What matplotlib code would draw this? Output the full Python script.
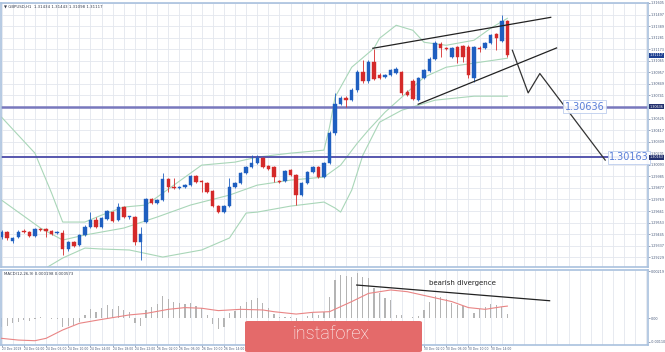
import matplotlib
matplotlib.use('Agg')
import matplotlib.pyplot as plt
from matplotlib.patches import FancyBboxPatch
import matplotlib.transforms as mtransforms

# ---------------- data ----------------
opens = [1.29418,1.29465,1.29381,1.29418,1.29474,1.29465,1.29427,1.29493,1.29493,1.29474,
 1.29455,1.29455,1.29306,1.29371,1.29343,1.29437,1.29511,1.29577,1.29511,1.29586,
 1.29651,1.29577,1.29698,1.29605,1.29605,1.29371,1.29558,1.29773,1.29735,1.29763,
 1.29959,1.29885,1.29875,1.29885,1.29903,1.29987,1.29941,1.29922,1.29847,1.29707,
 1.29651,1.29707,1.29885,1.29922,1.30015,1.30071,1.30109,1.30155,1.30081,1.30071,
 1.29941,1.29941,1.30043,1.29997,1.29810,1.29922,1.30025,1.30071,1.29978,1.30109,
 1.30389,1.30659,1.30715,1.30697,1.30790,1.30958,1.30874,1.31051,1.30930,1.30911,
 1.30930,1.30949,1.30958,1.30771,1.30874,1.30697,1.30902,1.30967,1.31079,1.31219,
 1.31182,1.31098,1.31191,1.31201,1.31191,1.30902,1.31182,1.31182,1.31229,1.31313,
 1.31247,1.31434]
highs = [1.29483,1.29474,1.29418,1.29483,1.29493,1.29474,1.29502,1.29502,1.29502,1.29483,
 1.29474,1.29483,1.29381,1.29381,1.29446,1.29530,1.29651,1.29605,1.29605,1.29670,
 1.29661,1.29735,1.29707,1.29614,1.29614,1.29511,1.29782,1.29782,1.29773,1.30015,
 1.29969,1.29969,1.29894,1.29913,1.29997,1.29997,1.29950,1.29931,1.29857,1.29717,
 1.29717,1.29969,1.29931,1.30025,1.30081,1.30183,1.30183,1.30165,1.30090,1.30081,
 1.29950,1.30043,1.30053,1.30006,1.29931,1.30034,1.30081,1.30081,1.30118,1.30407,
 1.30762,1.30734,1.30734,1.30809,1.30977,1.31070,1.31070,1.31173,1.30949,1.30939,
 1.30986,1.31005,1.30967,1.30790,1.30893,1.30911,1.30986,1.31098,1.31247,1.31238,
 1.31191,1.31191,1.31201,1.31210,1.31210,1.31201,1.31201,1.31238,1.31313,1.31322,
 1.31490,1.31443]
lows = [1.29399,1.29390,1.29362,1.29409,1.29455,1.29418,1.29418,1.29474,1.29418,1.29437,
 1.29446,1.29250,1.29287,1.29325,1.29334,1.29427,1.29502,1.29502,1.29502,1.29577,
 1.29558,1.29567,1.29595,1.29586,1.29343,1.29203,1.29549,1.29726,1.29726,1.29754,
 1.29838,1.29866,1.29866,1.29875,1.29894,1.29922,1.29838,1.29829,1.29698,1.29642,
 1.29642,1.29698,1.29875,1.29913,1.30006,1.30062,1.30099,1.30062,1.30043,1.29931,
 1.29922,1.29931,1.29987,1.29717,1.29801,1.29913,1.30015,1.29969,1.29969,1.30099,
 1.30370,1.30650,1.30631,1.30687,1.30771,1.30855,1.30855,1.30883,1.30893,1.30902,
 1.30921,1.30939,1.30743,1.30734,1.30697,1.30687,1.30893,1.30958,1.31070,1.31098,
 1.31163,1.31089,1.31042,1.31051,1.30902,1.30865,1.31145,1.31173,1.31219,1.31163,
 1.31238,1.31098]
closes = [1.29465,1.29409,1.29409,1.29465,1.29465,1.29427,1.29493,1.29483,1.29474,1.29446,
 1.29465,1.29306,1.29371,1.29334,1.29437,1.29511,1.29577,1.29511,1.29595,1.29661,
 1.29567,1.29698,1.29605,1.29614,1.29371,1.29446,1.29773,1.29735,1.29763,1.29959,
 1.29885,1.29875,1.29885,1.29903,1.29987,1.29931,1.29931,1.29838,1.29707,1.29651,
 1.29707,1.29885,1.29922,1.30015,1.30071,1.30109,1.30155,1.30071,1.30053,1.29978,
 1.29931,1.30034,1.29997,1.29810,1.29922,1.30025,1.30071,1.29978,1.30109,1.30389,
 1.30659,1.30715,1.30697,1.30790,1.30958,1.30874,1.31051,1.30893,1.30902,1.30930,
 1.30977,1.30986,1.30762,1.30743,1.30706,1.30902,1.30977,1.31079,1.31229,1.31182,
 1.31173,1.31182,1.31098,1.31098,1.30930,1.31191,1.31173,1.31229,1.31303,1.31275,
 1.31434,1.31117]

# Bollinger bands read at selected bars
bb_up_idx = [0,6,9,11,15,18,22,26,31,36,42,46,52,58,59,60,63,67,68,71,74,76,80,85,88,91]
bb_up_val = [1.30538,1.30202,1.29829,1.29558,1.29558,1.29623,1.29698,1.29717,1.29903,1.30090,
             1.30118,1.30165,1.30202,1.30230,1.30445,1.30725,1.31005,1.31182,1.31275,1.31397,
             1.31350,1.31238,1.31210,1.31257,1.31369,1.31462]
bb_mid_idx = [0,7,11,15,22,28,34,41,46,52,58,61,64,66,69,72,76,80,86,91]
bb_mid_val = [1.29763,1.29502,1.29390,1.29437,1.29502,1.29605,1.29717,1.29810,1.29903,1.29950,
              1.29978,1.30090,1.30295,1.30417,1.30585,1.30725,1.30911,1.31005,1.31051,1.31089]
bb_lo_idx = [0,5,8,11,15,18,23,29,36,41,44,46,52,58,60,61,63,65,68,72,78,85,91]
bb_lo_val = [1.28830,1.29026,1.29129,1.29222,1.29315,1.29306,1.29297,1.29231,1.29297,1.29409,
             1.29642,1.29651,1.29707,1.29745,1.29689,1.29651,1.29857,1.30183,1.30491,1.30603,
             1.30697,1.30734,1.30734]

# MACD
macd_hist = [-0.00039,-0.00034,-0.00023,-0.00016,-0.00008,-0.00012,-0.00005,0.00005,0.00003,-0.00002,
 -0.00002,-0.00039,-0.00036,-0.00031,-0.00016,0.00016,0.00042,0.00031,0.00047,0.00062,
 0.00042,0.00057,0.00039,0.00031,-0.00023,-0.00036,0.00039,0.00054,0.00067,0.00104,
 0.00088,0.00078,0.00070,0.00067,0.00073,0.00057,0.00047,0.00016,-0.00026,-0.00050,
 -0.00039,0.00023,0.00036,0.00057,0.00078,0.00085,0.00093,0.00070,0.00047,0.00020,
 0.00005,0.00008,0.00005,-0.00020,0.00000,0.00011,0.00023,0.00016,0.00031,0.00101,
 0.00178,0.00202,0.00197,0.00194,0.00209,0.00194,0.00186,0.00140,0.00116,0.00093,
 0.00085,0.00016,0.00016,0.00002,0.00005,0.00011,0.00039,0.00078,0.00104,0.00098,
 0.00088,0.00073,0.00062,0.00057,0.00003,0.00026,0.00042,0.00054,0.00067,0.00062,
 0.00054,0.00020]
sig_idx = [0,3,6,8,11,14,18,23,26,30,33,36,39,43,47,49,53,56,59,63,66,70,73,77,81,84,87,90,91]
sig_val = [-0.00093,-0.00101,-0.00104,-0.00093,-0.00054,-0.00023,-0.00005,0.00016,0.00023,0.00042,
           0.00050,0.00047,0.00036,0.00042,0.00039,0.00031,0.00020,0.00028,0.00031,0.00078,
           0.00116,0.00132,0.00124,0.00101,0.00078,0.00050,0.00042,0.00054,0.00057]

# levels and drawings
levels = [1.30636, 1.30163]
level_labels = ["1.30636", "1.30163"]
level_label_x = [104.9, 112.9]
upper_trend = ([66.8, 98.8], [1.31182, 1.31471])
lower_trend = ([74.95, 99.85], [1.30659, 1.31185])
path_x = [91.9, 94.74, 96.84, 108.6]
path_y = [1.31163, 1.30765, 1.30946, 1.30137]
div_line = ([63.9, 98.6], [0.00155, 0.00082])

price_ticks = [1.31605,1.31497,1.31389,1.31281,1.31173,1.31065,1.30957,1.30849,1.30741,1.30633,
               1.30525,1.30417,1.30309,1.30201,1.30093,1.29985,1.29877,1.29769,1.29661,1.29553,
               1.29445,1.29337,1.29229]
time_idx = [0,4,8,12,16,20,24,28,32,36,40,44,48,52,56,60,64,68,72,76,80,84,88]
time_labels = ["23 Dec 2019","24 Dec 02:00","24 Dec 06:00","24 Dec 10:00","24 Dec 14:00",
               "24 Dec 18:00","24 Dec 22:00","26 Dec 02:00","26 Dec 06:00","26 Dec 10:00",
               "26 Dec 14:00","26 Dec 18:00","26 Dec 22:00","27 Dec 02:00","27 Dec 06:00",
               "27 Dec 10:00","27 Dec 14:00","27 Dec 18:00","27 Dec 22:00","30 Dec 02:00",
               "30 Dec 06:00","30 Dec 10:00","30 Dec 14:00"]

# ---------------- style ----------------
BULL = '#1f5fc0'
BEAR = '#d42a2a'
BAND = '#a9d6b8'
GRID = '#e3e7ee'
FRAME = '#a9c1de'
TXT = '#4a5b7c'

W, H = 665, 352
fig = plt.figure(figsize=(W/100, H/100), dpi=100)
fig.patch.set_facecolor('white')
ax = fig.add_axes([1/W, 1-267/H, 647/W, 264/H])
ax2 = fig.add_axes([1/W, 1-345/H, 647/W, 75/H])

XMIN, XMAX = -0.1, 116.3
n = len(opens)
xs = list(range(n))

for a in (ax, ax2):
    a.set_xlim(XMIN, XMAX)
    a.set_facecolor('white')
    for s in a.spines.values():
        s.set_color(FRAME)
        s.set_linewidth(1.2)
    grid_x = list(range(0, 118, 2))
    a.vlines(grid_x, 0, 1, transform=a.get_xaxis_transform(), color=GRID, lw=0.6, zorder=0)

# main panel
ax.set_ylim(1.29138, 1.31602)
ax.yaxis.tick_right()
ax.set_yticks(price_ticks)
ax.set_yticklabels([f"{v:.5f}" for v in price_ticks], fontsize=2.4, color=TXT)
ax.tick_params(axis='y', length=1.2, width=0.4, pad=0.6, colors=TXT)
ax.set_xticks([])
for v in price_ticks:
    ax.axhline(v, color=GRID, lw=0.6, zorder=0)

# bands
ax.plot(bb_up_idx, bb_up_val, color=BAND, lw=0.8, zorder=1)
ax.plot(bb_mid_idx, bb_mid_val, color=BAND, lw=0.8, zorder=1)
ax.plot(bb_lo_idx, bb_lo_val, color=BAND, lw=0.8, zorder=1)

# candles
for i in xs:
    o, h, l, c = opens[i], highs[i], lows[i], closes[i]
    col = BULL if c >= o else BEAR
    ax.vlines(i, l, h, color=col, lw=0.6, zorder=3)
    bottom = min(o, c)
    height = max(abs(c - o), 0.00003)
    ax.bar(i, height, bottom=bottom, width=0.62, color=col, edgecolor=col, lw=0.3, zorder=4)

# levels
ax.axhline(levels[0], color='#7878bd', lw=1.8, zorder=2)
ax.axhline(levels[1], color='#4a4aa8', lw=1.3, zorder=2)
for lv, lab, lx in zip(levels, level_labels, level_label_x):
    ax.text(lx, lv, lab, fontsize=7, color='#5a7fd8', ha='center', va='center', zorder=6,
            bbox=dict(boxstyle='square,pad=0.15', fc='white', ec='#b5c8ec', lw=0.6, alpha=0.9))

# trend lines and projected path
ax.plot(*upper_trend, color='#222222', lw=0.9, zorder=5)
ax.plot(*lower_trend, color='#222222', lw=0.9, zorder=5)
ax.plot(path_x, path_y, color='#333333', lw=0.9, zorder=5)

# right-axis highlight boxes
tr = mtransforms.blended_transform_factory(ax.transAxes, ax.transData)
for val, fc in [(closes[-1], '#1d3f91'), (levels[0], '#23306e'), (levels[1], '#23306e')]:
    ax.text(1.002, val, f"{val:.5f}", transform=tr, fontsize=2.4, color='white',
            ha='left', va='center', zorder=7, clip_on=False,
            bbox=dict(boxstyle='square,pad=0.2', fc=fc, ec='none'))

ax.text(0.004, 0.993, "\u25bc GBPUSD,H1  1.31434 1.31443 1.31098 1.31117", transform=ax.transAxes,
        fontsize=2.8, color='#333a4a', ha='left', va='top')

# MACD panel
ax2.set_ylim(-0.00124, 0.00225)
ax2.bar(xs, macd_hist, width=0.22, color='#b4b4b4', zorder=2)
ax2.plot(sig_idx, sig_val, color='#e98585', lw=0.8, zorder=3)
ax2.plot(*div_line, color='#222222', lw=0.9, zorder=4)
ax2.text(82.9, 0.00150, "bearish divergence", fontsize=5, color='#222222', ha='center', va='bottom', zorder=4)
ax2.yaxis.tick_right()
macd_ticks = [0.00219, 0.0, -0.00110]
ax2.set_yticks(macd_ticks)
ax2.set_yticklabels(["0.00219", "0.00", "-0.00110"], fontsize=2.4, color=TXT)
ax2.tick_params(axis='y', length=1.2, width=0.4, pad=0.6, colors=TXT)
ax2.set_xticks(time_idx)
ax2.set_xticklabels(time_labels, fontsize=2.2, color=TXT, ha='left')
ax2.tick_params(axis='x', length=1.2, width=0.4, pad=0.5, colors=TXT)
ax2.text(0.004, 0.97, "MACD(12,26,9) 0.000198 0.000573", transform=ax2.transAxes,
         fontsize=2.8, color='#333a4a', ha='left', va='top')

# logo
logo = FancyBboxPatch((245/W, 0), 177/W, 31/H, boxstyle='round,pad=0,rounding_size=0.004',
                      transform=fig.transFigure, fc='#e46a6a', ec='none', zorder=10)
fig.add_artist(logo)
fig.text(331/W, 1-334/H, "instaforex", fontsize=13, color='white', family='Roboto',
         weight='light', ha='center', va='center', zorder=11)

fig.savefig('out.png', dpi=100)
